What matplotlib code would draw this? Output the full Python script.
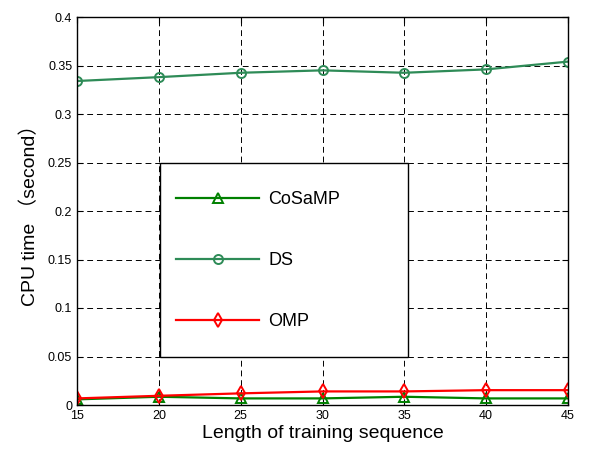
import numpy as np
import matplotlib
matplotlib.use('Agg')
import matplotlib.pyplot as plt
from matplotlib.patches import Rectangle

plt.rcParams['font.family'] = ['Liberation Sans', 'Noto Sans CJK SC', 'DejaVu Sans']

# ================= 数据 =================
seq_len = [15, 20, 25, 30, 35, 40, 45]
cosamp = [0.0058, 0.0085, 0.0068, 0.0068, 0.0085, 0.0068, 0.0068]
ds = [0.334, 0.338, 0.3425, 0.345, 0.3425, 0.346, 0.354]
omp = [0.0068, 0.0095, 0.012, 0.014, 0.014, 0.0153, 0.0153]

x_ticks = [15, 20, 25, 30, 35, 40, 45]
y_ticks = [0, 0.05, 0.1, 0.15, 0.2, 0.25, 0.3, 0.35, 0.4]
y_ticklabels = ['0', '0.05', '0.1', '0.15', '0.2', '0.25', '0.3', '0.35', '0.4']

# ================= 绘图 =================
fig = plt.figure(figsize=(5.9, 4.54), dpi=100)
ax = fig.add_axes([77/590, 1 - 405/454, 491/590, 388/454])

ax.plot(seq_len, cosamp, color='#008000', lw=1.6, marker='^', ms=7,
        mfc='none', mew=1.4, label='CoSaMP')
ax.plot(seq_len, ds, color='#2e8b57', lw=1.6, marker='o', ms=6.5,
        mfc='none', mew=1.4, label='DS')
ax.plot(seq_len, omp, color='#ff0000', lw=1.6, marker='d', ms=7,
        mfc='none', mew=1.4, label='OMP')

ax.set_xlim(15, 45)
ax.set_ylim(0, 0.4)
ax.set_xticks(x_ticks)
ax.set_yticks(y_ticks)
ax.set_yticklabels(y_ticklabels)
ax.tick_params(direction='in', top=True, right=True, labelsize=9, length=4)
ax.grid(True, color='black', linestyle=(0, (6, 4)), linewidth=0.7)
for sp in ax.spines.values():
    sp.set_linewidth(1.0)

ax.set_xlabel('Length of training sequence', fontsize=14, labelpad=2)
ax.set_ylabel('CPU time （second）', fontsize=14, labelpad=6)

# 图例框（白底黑边）
box = Rectangle((0.169, 0.124), 0.505, 0.5, transform=ax.transAxes,
                facecolor='white', edgecolor='black', lw=1.0, zorder=4)
ax.add_patch(box)
leg = ax.legend(loc='center left', bbox_to_anchor=(0.169, 0.372),
                fontsize=13, handlelength=4.6, labelspacing=2.45,
                borderpad=0.9, handletextpad=0.5, frameon=False,
                borderaxespad=0)
leg.set_zorder(5)

plt.savefig('out.png', dpi=100)
